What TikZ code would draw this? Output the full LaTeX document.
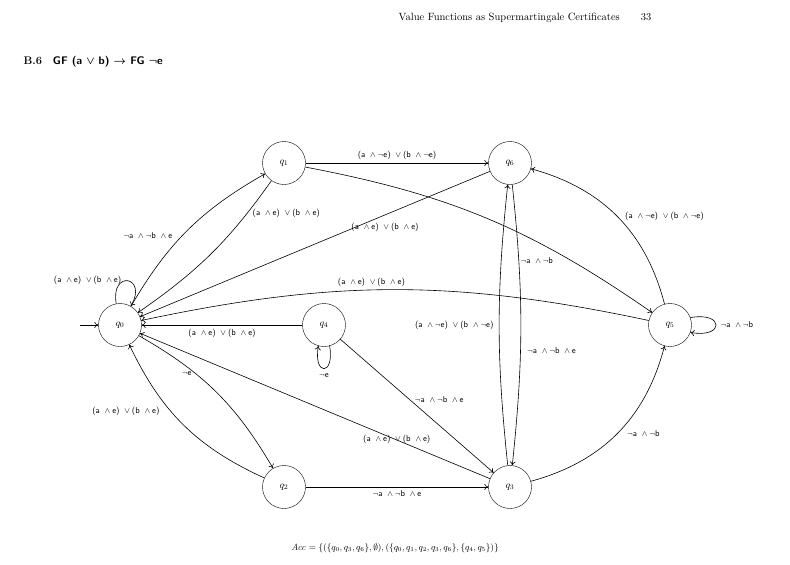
\documentclass[tikz,border=0pt]{standalone}
\usepackage{amsmath}
\usetikzlibrary{arrows.meta}
\newcommand{\An}{${}\wedge{}$}
\newcommand{\Or}{${}\vee{}$}
\newcommand{\Ng}{$\neg$}
\newcommand{\ttltext}{B.6\quad\textsf{GF (a $\boldsymbol{\vee}$ b) $\boldsymbol{\rightarrow}$ FG $\boldsymbol{\neg}$e}}
\begin{document}
\begin{tikzpicture}[x=1pt,y=-1pt,
  st/.style={draw,circle,minimum size=43pt,inner sep=0pt,font=\normalsize},
  lab/.style={font=\sffamily\fontsize{8.5}{10}\selectfont},
  tr/.style={->,>={To[length=4pt,width=6pt]},semithick}]
\useasboundingbox (0,0) rectangle (790,565);
\node[font={\fontsize{10.5}{12}\selectfont}] (hdr) at (525,18) {Value Functions as Supermartingale Certificates\quad\quad 33};
\node[anchor=west,font={\bfseries\fontsize{11}{13}\selectfont}] (ttl) at (20,62) {\ttltext};
\node[font={\fontsize{9}{11}\selectfont}] (acc) at (395,548) {$\mathit{Acc}=\{(\{q_0,q_3,q_6\},\emptyset),(\{q_0,q_1,q_2,q_3,q_6\},\{q_4,q_5\})\}$};
\node[st] (q0) at (120,325) {$q_0$};
\node[st] (q1) at (284,163) {$q_1$};
\node[st] (q6) at (510,163) {$q_6$};
\node[st] (q4) at (324,325) {$q_4$};
\node[st] (q5) at (670,325) {$q_5$};
\node[st] (q2) at (284,487) {$q_2$};
\node[st] (q3) at (510,487) {$q_3$};
\coordinate (in) at (80,325);
\draw[tr] (in) -- (q0);
\draw[tr] (q0) to[bend left=15] node[lab,pos=0.45,left=6pt] {\Ng a \An\Ng b \An e} (q1);
\draw[tr] (q1) to[bend left=10] node[lab,pos=0.2,right=2pt] {(a \An e) \Or (b \An e)} (q0);
\draw[tr] (q0.100) to[out=100,in=60,looseness=6] node[lab,left=1pt,pos=0.45] {(a \An e) \Or (b \An e)} (q0.60);
\draw[tr] (q1) -- node[lab,above] {(a \An\Ng e) \Or (b \An\Ng e)} (q6);
\draw[tr] (q1) to[bend left=12] node[lab,pos=0.72,below left=1pt] {\Ng a \An\Ng b} (q5);
\draw[tr] (q6) -- node[lab,pos=0.3,below=5pt] {(a \An e) \Or (b \An e)} (q0);
\draw[tr] (q5) to[bend right=12] node[lab,pos=0.55,above] {(a \An e) \Or (b \An e)} (q0);
\draw[tr] (q5) to[bend right=30] node[lab,pos=0.5,right=4pt] {(a \An\Ng e) \Or (b \An\Ng e)} (q6);
\draw[tr] (q5.20) to[out=10,in=-10,looseness=6] node[lab,right=1pt] {\Ng a \An\Ng b} (q5.-20);
\draw[tr] (q4) -- node[lab,below] {(a \An e) \Or (b \An e)} (q0);
\draw[tr] (q4.-75) to[out=-80,in=-100,looseness=7] node[lab,below=1pt] {\Ng e} (q4.-105);
\draw[tr] (q4) -- node[lab,pos=0.45,right=2pt] {\Ng a \An\Ng b \An e} (q3);
\draw[tr] (q0) to[bend left=15] node[lab,pos=0.35,left=1pt] {\Ng e} (q2);
\draw[tr] (q2) to[bend left=20] node[lab,pos=0.6,left=8pt] {(a \An e) \Or (b \An e)} (q0);
\draw[tr] (q3) -- node[lab,pos=0.12,above left=14pt] {(a \An e) \Or (b \An e)} (q0);
\draw[tr] (q2) -- node[lab,below] {\Ng a \An\Ng b \An e} (q3);
\draw[tr] (q3) to[bend left=6] node[lab,pos=0.5,left=2pt] {(a \An\Ng e) \Or (b \An\Ng e)} (q6);
\draw[tr] (q6) to[bend left=6] node[lab,pos=0.6,right=3pt] {\Ng a \An\Ng b \An e} (q3);
\draw[tr] (q3) to[bend right=30] node[lab,pos=0.5,right=6pt] {\Ng a \An\Ng b} (q5);
\end{tikzpicture}
\end{document}
